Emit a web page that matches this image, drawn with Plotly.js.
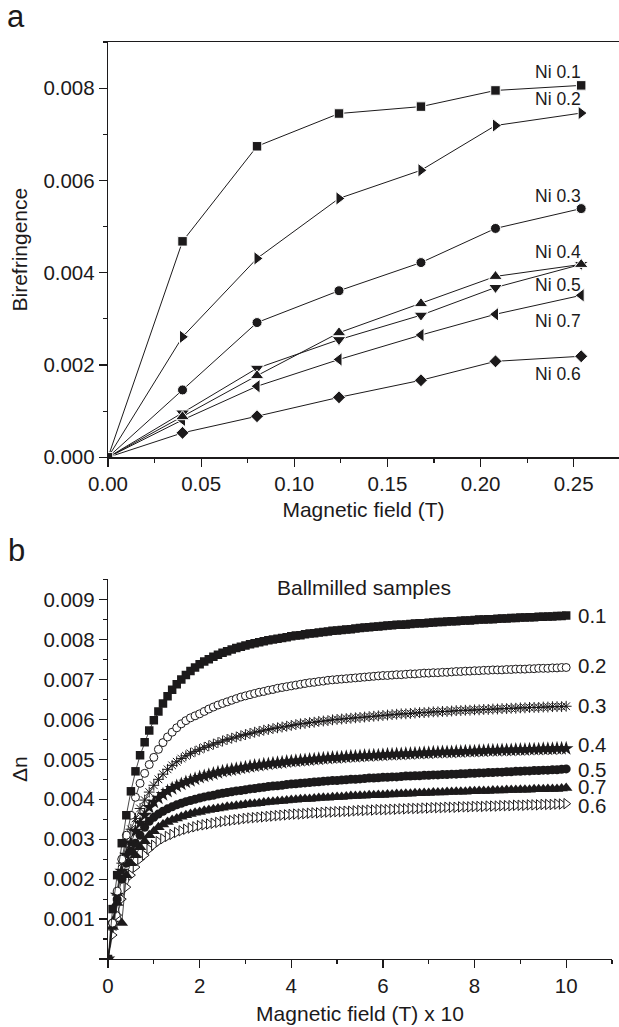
<!DOCTYPE html>
<html>
<head>
<meta charset="utf-8">
<script src="https://cdn.plot.ly/plotly-3.0.1.min.js"></script>
<style>html,body{margin:0;padding:0;background:#fff}#chart{width:619px;height:1027px}</style>
</head>
<body>
<div id="chart"></div>
<script>
// ---------- Panel a : birefringence vs magnetic field ----------
const fieldA = [0, 0.04, 0.08, 0.124, 0.168, 0.208, 0.254];
const ni01 = [0, 0.00468, 0.00674, 0.00745, 0.00760, 0.00795, 0.00806];
const ni02 = [0, 0.00261, 0.00431, 0.00561, 0.00622, 0.00719, 0.00746];
const ni03 = [0, 0.00146, 0.00292, 0.00361, 0.00422, 0.00496, 0.00539];
const ni04 = [0, 0.00088, 0.00177, 0.00270, 0.00333, 0.00392, 0.00418];
const ni05 = [0, 0.00096, 0.00193, 0.00255, 0.00308, 0.00368, 0.00418];
const ni07 = [0, 0.00081, 0.00154, 0.00212, 0.00265, 0.00310, 0.00351];
const ni06 = [0, 0.00053, 0.00089, 0.00130, 0.00167, 0.00208, 0.00219];
const labelsA = ['Ni 0.1', 'Ni 0.2', 'Ni 0.3', 'Ni 0.4', 'Ni 0.5', 'Ni 0.7', 'Ni 0.6'];

// ---------- Panel b : ballmilled samples ----------
const fieldB = [0,0.1,0.2,0.3,0.4,0.5,0.6,0.7,0.8,0.9,1,1.1,1.2,1.3,1.4,1.5,1.6,1.7,1.8,1.9,2,2.1,2.2,2.3,2.4,2.5,2.6,2.7,2.8,2.9,3,3.1,3.2,3.3,3.4,3.5,3.6,3.7,3.8,3.9,4,4.1,4.2,4.3,4.4,4.5,4.6,4.7,4.8,4.9,5,5.1,5.2,5.3,5.4,5.5,5.6,5.7,5.8,5.9,6,6.1,6.2,6.3,6.4,6.5,6.6,6.7,6.8,6.9,7,7.1,7.2,7.3,7.4,7.5,7.6,7.7,7.8,7.9,8,8.1,8.2,8.3,8.4,8.5,8.6,8.7,8.8,8.9,9,9.1,9.2,9.3,9.4,9.5,9.6,9.7,9.8,9.9,10];
const b01 = [0,0.00125,0.0021,0.0029,0.0036,0.0042,0.0047,0.0051,0.00543,0.00572,0.00598,0.0062,0.0064,0.00658,0.00674,0.00688,0.007,0.00711,0.00721,0.0073,0.00738,0.00745,0.00751,0.00757,0.00762,0.00767,0.00771,0.00775,0.00779,0.00782,0.00785,0.00788,0.00791,0.00793,0.00796,0.00798,0.008,0.00802,0.00804,0.00806,0.00808,0.0081,0.00811,0.00813,0.00815,0.00816,0.00818,0.00819,0.0082,0.00822,0.00823,0.00824,0.00825,0.00826,0.00828,0.00829,0.0083,0.00831,0.00832,0.00833,0.00834,0.00835,0.00836,0.00837,0.00837,0.00838,0.00839,0.0084,0.00841,0.00841,0.00842,0.00843,0.00844,0.00844,0.00845,0.00846,0.00846,0.00847,0.00848,0.00848,0.00849,0.0085,0.0085,0.00851,0.00851,0.00852,0.00853,0.00853,0.00854,0.00854,0.00855,0.00855,0.00856,0.00856,0.00857,0.00857,0.00858,0.00858,0.00859,0.00859,0.0086];
const b02 = [0,0.0009,0.0017,0.0025,0.0031,0.0036,0.00405,0.0044,0.00465,0.00487,0.00505,0.00525,0.00542,0.00556,0.00568,0.00579,0.00589,0.00597,0.00604,0.00609,0.00614,0.0062,0.00626,0.00631,0.00636,0.0064,0.00644,0.00648,0.00652,0.00656,0.00659,0.00662,0.00665,0.00668,0.0067,0.00673,0.00675,0.00678,0.0068,0.00682,0.00684,0.00686,0.00688,0.0069,0.00692,0.00693,0.00695,0.00696,0.00698,0.00699,0.007,0.00701,0.00702,0.00703,0.00704,0.00705,0.00706,0.00707,0.00708,0.00709,0.0071,0.0071,0.00711,0.00712,0.00712,0.00713,0.00714,0.00714,0.00715,0.00716,0.00716,0.00717,0.00717,0.00718,0.00718,0.00719,0.0072,0.0072,0.00721,0.00721,0.00722,0.00722,0.00723,0.00723,0.00724,0.00724,0.00724,0.00725,0.00725,0.00726,0.00726,0.00726,0.00727,0.00727,0.00728,0.00728,0.00728,0.00729,0.00729,0.0073,0.0073];
const b03 = [0,0.0008,0.0016,0.0024,0.0029,0.00325,0.00352,0.00377,0.00398,0.00418,0.00435,0.0045,0.00463,0.00475,0.00485,0.00494,0.00502,0.00509,0.00515,0.0052,0.00525,0.0053,0.00534,0.00538,0.00542,0.00546,0.0055,0.00553,0.00556,0.00559,0.00562,0.00565,0.00568,0.0057,0.00573,0.00575,0.00577,0.00579,0.00581,0.00583,0.00585,0.00587,0.00589,0.0059,0.00592,0.00593,0.00595,0.00596,0.00597,0.00599,0.006,0.00601,0.00602,0.00603,0.00604,0.00605,0.00606,0.00607,0.00608,0.00609,0.0061,0.00611,0.00612,0.00613,0.00614,0.00614,0.00615,0.00616,0.00617,0.00617,0.00618,0.00619,0.00619,0.0062,0.0062,0.00621,0.00622,0.00622,0.00623,0.00623,0.00624,0.00624,0.00625,0.00625,0.00626,0.00626,0.00627,0.00627,0.00628,0.00628,0.00629,0.00629,0.0063,0.0063,0.0063,0.00631,0.00631,0.00632,0.00632,0.00632,0.00633];
const b04 = [0,0.0009,0.0016,0.0022,0.0026,0.0029,0.0032,0.0034,0.0036,0.0038,0.00393,0.00403,0.00412,0.0042,0.00427,0.00433,0.00438,0.00443,0.00447,0.00451,0.00455,0.00458,0.00461,0.00464,0.00467,0.0047,0.00472,0.00474,0.00476,0.00478,0.0048,0.00482,0.00484,0.00485,0.00487,0.00488,0.0049,0.00491,0.00492,0.00494,0.00495,0.00496,0.00497,0.00498,0.00499,0.005,0.00501,0.00502,0.00503,0.00504,0.00504,0.00505,0.00506,0.00507,0.00507,0.00508,0.00509,0.00509,0.0051,0.0051,0.00511,0.00512,0.00512,0.00513,0.00513,0.00514,0.00514,0.00515,0.00515,0.00516,0.00516,0.00517,0.00517,0.00518,0.00518,0.00518,0.00519,0.00519,0.0052,0.0052,0.0052,0.00521,0.00521,0.00522,0.00522,0.00522,0.00523,0.00523,0.00523,0.00524,0.00524,0.00524,0.00525,0.00525,0.00525,0.00526,0.00526,0.00526,0.00527,0.00527,0.00527];
const b05 = [0,0.0009,0.0015,0.002,0.0024,0.0027,0.0029,0.0031,0.0033,0.00345,0.00355,0.00363,0.0037,0.00376,0.00381,0.00386,0.0039,0.00394,0.00397,0.004,0.00403,0.00406,0.00408,0.0041,0.00413,0.00415,0.00417,0.00419,0.00421,0.00422,0.00424,0.00426,0.00427,0.00429,0.0043,0.00432,0.00433,0.00434,0.00435,0.00437,0.00438,0.00439,0.0044,0.00441,0.00442,0.00443,0.00444,0.00445,0.00446,0.00447,0.00447,0.00448,0.00449,0.0045,0.0045,0.00451,0.00452,0.00453,0.00453,0.00454,0.00455,0.00455,0.00456,0.00456,0.00457,0.00458,0.00458,0.00459,0.00459,0.0046,0.0046,0.00461,0.00461,0.00462,0.00462,0.00463,0.00463,0.00464,0.00464,0.00465,0.00465,0.00466,0.00466,0.00467,0.00467,0.00468,0.00468,0.00469,0.00469,0.0047,0.0047,0.00471,0.00471,0.00472,0.00472,0.00473,0.00473,0.00474,0.00474,0.00475,0.00476];
const b07 = [0,0.0008,0.0014,0.0009,0.0021,0.0024,0.0026,0.0028,0.00295,0.0031,0.0032,0.0033,0.00337,0.00343,0.00348,0.00352,0.00356,0.0036,0.00363,0.00366,0.00368,0.00371,0.00373,0.00375,0.00377,0.00379,0.00381,0.00382,0.00384,0.00385,0.00387,0.00388,0.00389,0.0039,0.00392,0.00393,0.00394,0.00395,0.00396,0.00397,0.00398,0.00399,0.004,0.00401,0.00401,0.00402,0.00403,0.00404,0.00404,0.00405,0.00406,0.00406,0.00407,0.00408,0.00408,0.00409,0.00409,0.0041,0.0041,0.00411,0.00411,0.00412,0.00412,0.00413,0.00413,0.00414,0.00414,0.00415,0.00415,0.00416,0.00416,0.00417,0.00417,0.00417,0.00418,0.00418,0.00419,0.00419,0.00419,0.0042,0.0042,0.00421,0.00421,0.00421,0.00422,0.00422,0.00422,0.00423,0.00423,0.00423,0.00424,0.00424,0.00424,0.00425,0.00425,0.00425,0.00426,0.00426,0.00426,0.00427,0.00428];
const b06 = [0,0.0006,0.0011,0.0015,0.0018,0.0021,0.0023,0.0025,0.0026,0.00275,0.00285,0.00294,0.00301,0.00307,0.00312,0.00317,0.00321,0.00325,0.00328,0.00331,0.00334,0.00336,0.00338,0.0034,0.00342,0.00344,0.00346,0.00347,0.00349,0.0035,0.00352,0.00353,0.00354,0.00355,0.00356,0.00357,0.00358,0.00359,0.0036,0.00361,0.00362,0.00363,0.00363,0.00364,0.00365,0.00366,0.00366,0.00367,0.00368,0.00368,0.00369,0.00369,0.0037,0.0037,0.00371,0.00372,0.00372,0.00373,0.00373,0.00374,0.00374,0.00374,0.00375,0.00375,0.00376,0.00376,0.00377,0.00377,0.00377,0.00378,0.00378,0.00379,0.00379,0.00379,0.0038,0.0038,0.0038,0.00381,0.00381,0.00381,0.00382,0.00382,0.00382,0.00383,0.00383,0.00383,0.00384,0.00384,0.00384,0.00385,0.00385,0.00385,0.00386,0.00386,0.00386,0.00387,0.00387,0.00387,0.00388,0.00388,0.00389];
const labelsB = ['0.1', '0.2', '0.3', '0.4', '0.5', '0.7', '0.6'];

const INK = '#1c1a1b';
const FONT = 'Liberation Sans, Arial, Helvetica, sans-serif';

function topTrace(y, symbol, size) {
  return {x: fieldA, y: y, xaxis: 'x', yaxis: 'y', type: 'scatter', mode: 'lines+markers',
    line: {color: INK, width: 1},
    marker: {symbol: symbol, size: size, color: INK, line: {color: '#fff', width: 1}}};
}
function botTrace(y, symbol, size, fill, lw) {
  return {x: fieldB, y: y, xaxis: 'x2', yaxis: 'y2', type: 'scatter', mode: 'lines+markers',
    line: {color: INK, width: 0.8},
    marker: {symbol: symbol, size: size, color: fill, line: {color: INK, width: lw}}};
}

const data = [
  topTrace(ni06, 'diamond', 10),
  topTrace(ni07, 'triangle-left', 12),
  topTrace(ni05, 'triangle-down', 12),
  topTrace(ni04, 'triangle-up', 12),
  topTrace(ni03, 'circle', 10),
  topTrace(ni02, 'triangle-right', 12),
  topTrace(ni01, 'square', 9.5),
  botTrace(b06, 'triangle-right', 9, '#fff', 1),
  botTrace(b07, 'triangle-up', 11, INK, 0),
  botTrace(b05, 'circle', 9, INK, 0),
  botTrace(b04, 'star', 11, INK, 0),
  botTrace(b03, 'asterisk-open', 9, INK, 1),
  botTrace(b02, 'circle', 8, '#fff', 1),
  botTrace(b01, 'square', 8.5, INK, 0)
];

const labelYA = [0.00836, 0.00777, 0.00566, 0.00446, 0.00374, 0.00296, 0.00180];
const labelYB = [0.00860, 0.00735, 0.00635, 0.00537, 0.00474, 0.00432, 0.00385];

const annotations = [];
labelsA.forEach((t, i) => annotations.push({text: t, xref: 'x', yref: 'y', x: 0.2284, y: labelYA[i],
  xanchor: 'left', yanchor: 'middle', showarrow: false, font: {size: 17.5, family: FONT, color: INK}}));
labelsB.forEach((t, i) => annotations.push({text: t, xref: 'x2', yref: 'y2', x: 10.22, y: labelYB[i],
  xanchor: 'left', yanchor: 'middle', showarrow: false, font: {size: 20.5, family: FONT, color: INK}}));
annotations.push({text: 'Ballmilled samples', xref: 'x2', yref: 'y2', x: 5.59, y: 0.0093,
  xanchor: 'center', yanchor: 'middle', showarrow: false, font: {size: 21, family: FONT, color: INK}});
annotations.push({text: 'a', xref: 'paper', yref: 'paper', x: -0.18, y: 1.028,
  xanchor: 'center', yanchor: 'middle', showarrow: false, font: {size: 31, family: FONT, color: INK}});
annotations.push({text: 'b', xref: 'paper', yref: 'paper', x: -0.18, y: 0.445,
  xanchor: 'center', yanchor: 'middle', showarrow: false, font: {size: 31, family: FONT, color: INK}});

const axCommon = {showgrid: false, zeroline: false, showline: true, linecolor: INK, linewidth: 1.2,
  ticks: 'outside', ticklen: 8, tickwidth: 1.2, tickcolor: INK,
  tickfont: {size: 20.5, family: FONT, color: INK}};

const layout = {
  width: 619, height: 1027,
  margin: {l: 108, r: 0, t: 42, b: 68},
  paper_bgcolor: '#fff', plot_bgcolor: '#fff',
  showlegend: false,
  font: {family: FONT, color: INK, size: 20},
  xaxis: Object.assign({}, axCommon, {domain: [0, 1], anchor: 'y', range: [0, 0.2743],
    tickvals: [0, 0.05, 0.1, 0.15, 0.2, 0.25], tickformat: '.2f', mirror: true,
    minor: {dtick: 0.025, tick0: 0, ticklen: 4, ticks: 'outside', tickcolor: INK, tickwidth: 1.2},
    title: {text: 'Magnetic field (T)', font: {size: 21, family: FONT, color: INK}, standoff: 8}}),
  yaxis: Object.assign({}, axCommon, {domain: [0.5471, 1], anchor: 'x', range: [0, 0.009],
    tickvals: [0, 0.002, 0.004, 0.006, 0.008], tickformat: '.3f',
    minor: {dtick: 0.001, tick0: 0, ticklen: 4, ticks: 'outside', tickcolor: INK, tickwidth: 1.2},
    title: {text: 'Birefringence', font: {size: 21, family: FONT, color: INK}, standoff: 10}}),
  xaxis2: Object.assign({}, axCommon, {domain: [0, 0.9863], anchor: 'y2', range: [0, 11],
    tickvals: [0, 2, 4, 6, 8, 10],
    minor: {dtick: 1, tick0: 0, ticklen: 4, ticks: 'outside', tickcolor: INK, tickwidth: 1.2},
    title: {text: 'Magnetic field (T) x 10', font: {size: 21, family: FONT, color: INK}, standoff: 10}}),
  yaxis2: Object.assign({}, axCommon, {domain: [0, 0.4141], anchor: 'x2', range: [0, 0.00951],
    tickvals: [0, 0.001, 0.002, 0.003, 0.004, 0.005, 0.006, 0.007, 0.008, 0.009],
    ticktext: ['', '0.001', '0.002', '0.003', '0.004', '0.005', '0.006', '0.007', '0.008', '0.009'],
    minor: {dtick: 0.0005, tick0: 0, ticklen: 4, ticks: 'outside', tickcolor: INK, tickwidth: 1.2},
    title: {text: 'Δn', font: {size: 21, family: FONT, color: INK}, standoff: 10}}),
  annotations: annotations
};

Plotly.newPlot('chart', data, layout, {staticPlot: true, displayModeBar: false});
</script>
</body>
</html>
